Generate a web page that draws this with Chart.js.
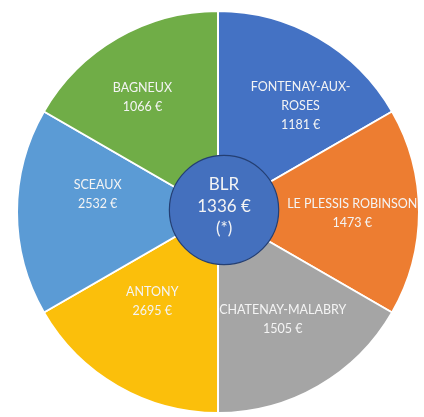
<!DOCTYPE html>
<html>
<head>
<meta charset="utf-8">
<script src="https://cdn.jsdelivr.net/npm/chart.js@4"></script>
<style>
  html, body { margin: 0; padding: 0; background: #fff; }
  #wrap { width: 424px; height: 417px; }
</style>
</head>
<body>
<div id="wrap"><canvas id="chart-pie"></canvas></div>
<script>
// ===== Data =====
const towns = [['FONTENAY-AUX-', 'ROSES'], ['LE PLESSIS ROBINSON'], ['CHATENAY-MALABRY'], ['ANTONY'], ['SCEAUX'], ['BAGNEUX']];
const amounts = [1181, 1473, 1505, 2695, 2532, 1066];
const shares = [1, 1, 1, 1, 1, 1]; // all slices drawn the same size
const sliceColors = ['#4472C4', '#ED7D31', '#A5A5A5', '#FBBF0B', '#5B9BD5', '#70AD47'];
const centerName = 'BLR';
const centerAmount = 1336;
const centerNote = '(*)';

// label anchors, as fractions of the pie radius from its centre
const labelAnchors = [[0.411, -0.53], [0.668, 0.007], [0.322, 0.537], [-0.327, 0.443], [-0.599, -0.089], [-0.376, -0.572]];

const FONT = 'Lato, "Open Sans", sans-serif';
const TEXT = '#F4F4F4';

const labelsPlugin = {
  id: 'sliceLabels',
  afterDatasetsDraw(chart) {
    const arc = chart.getDatasetMeta(0).data[0];
    if (!arc) return;
    const { ctx } = chart;
    const cx = arc.x, cy = arc.y, R = arc.outerRadius;

    ctx.save();
    ctx.textAlign = 'center';
    ctx.textBaseline = 'middle';
    ctx.fillStyle = TEXT;
    ctx.font = '12.5px ' + FONT;

    towns.forEach((lines, i) => {
      const all = lines.concat([amounts[i] + ' €']);
      const x = cx + labelAnchors[i][0] * R;
      const y = cy + labelAnchors[i][1] * R;
      const step = 19;
      const top = y - (all.length - 1) * step / 2;
      all.forEach((t, j) => ctx.fillText(t, x, top + j * step));
    });

    // centre disc
    const ccx = cx + 0.03 * R, ccy = cy - 0.01 * R, r = 0.272 * R;
    ctx.beginPath();
    ctx.arc(ccx, ccy, r, 0, Math.PI * 2);
    ctx.fillStyle = '#4470BE';
    ctx.fill();
    ctx.lineWidth = 1.2;
    ctx.strokeStyle = '#243F73';
    ctx.stroke();

    ctx.fillStyle = TEXT;
    ctx.font = '17px ' + FONT;
    ctx.fillText(centerName, ccx, ccy - 25);
    ctx.fillText(centerAmount + ' €', ccx, ccy - 3);
    ctx.fillText(centerNote, ccx, ccy + 19);
    ctx.restore();
  }
};

new Chart(document.getElementById('chart-pie'), {
  type: 'pie',
  data: {
    labels: towns.map(t => t.join(' ')),
    datasets: [{
      data: shares,
      backgroundColor: sliceColors,
      borderColor: '#ffffff',
      borderWidth: 2
    }]
  },
  options: {
    responsive: true,
    maintainAspectRatio: false,
    animation: false,
    layout: { padding: { left: 16, right: 4, top: 10, bottom: 3 } },
    plugins: {
      legend: { display: false },
      tooltip: { enabled: false }
    }
  },
  plugins: [labelsPlugin]
});
</script>
</body>
</html>
